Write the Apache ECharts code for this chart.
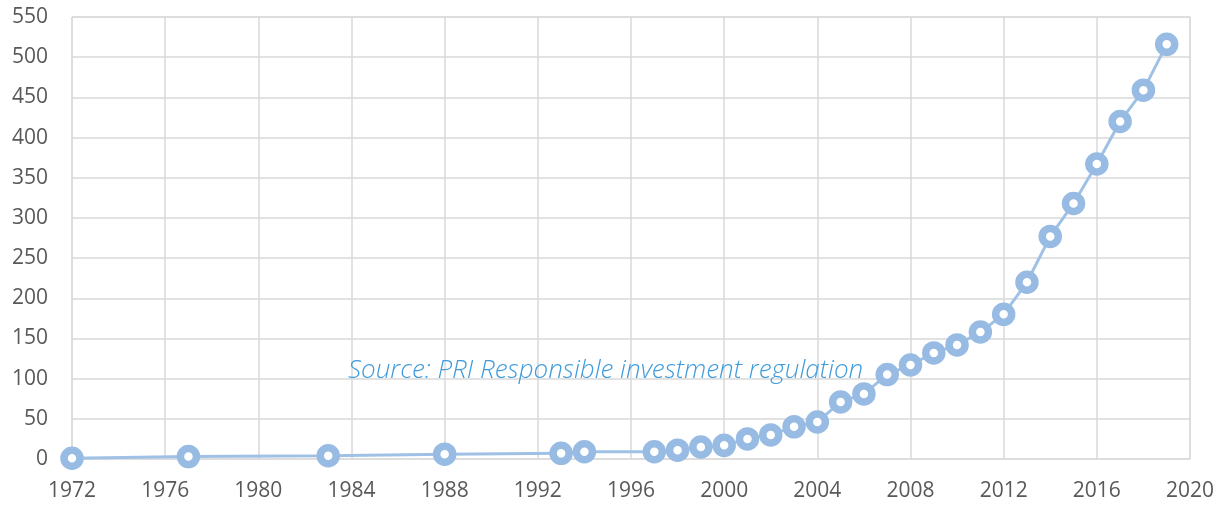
<!DOCTYPE html>
<html lang="en">
<head>
    <meta charset="UTF-8">
    <title>PRI regulation</title>
    <style>
        html, body { margin: 0; padding: 0; background: #fff; }
        #main { width: 1224px; height: 506px; }
    </style>
</head>
<body>
    <div id="main"></div>
    <script src="https://cdn.jsdelivr.net/npm/echarts@6/dist/echarts.min.js"></script>
    <script>
        // 年份与数值
        var years = [1972, 1977, 1983, 1988, 1993, 1994, 1997, 1998, 1999, 2000,
                     2001, 2002, 2003, 2004, 2005, 2006, 2007, 2008, 2009, 2010,
                     2011, 2012, 2013, 2014, 2015, 2016, 2017, 2018, 2019];
        var counts = [1, 3, 4, 6, 7, 9, 9, 11, 15, 17,
                      25, 30, 40, 46, 71, 81, 105, 117, 132, 142,
                      158, 180, 220, 277, 318, 367, 420, 459, 516];
        var sourceText = 'Source: PRI Responsible investment regulation';

        var myChart = echarts.init(document.getElementById('main'));
        var option = {
            animation: false,
            title: {
                text: sourceText,
                left: 343,
                top: 353,
                textStyle: {
                    fontFamily: 'Open Sans',
                    fontStyle: 'italic',
                    fontWeight: 300,
                    fontSize: 26,
                    color: '#3f9bdb'
                }
            },
            grid: { left: 72, right: 34, top: 17, bottom: 47, show: true, borderColor: '#d9d9d9', borderWidth: 1 },
            xAxis: {
                type: 'value',
                min: 1972,
                max: 2020,
                interval: 4,
                axisLine: { show: false },
                axisTick: { show: false },
                axisLabel: {
                    color: '#595959', fontSize: 21, fontFamily: 'Open Sans', margin: 22,
                    formatter: function (v) { return String(v); }
                },
                splitLine: { lineStyle: { color: '#d9d9d9', width: 1.5 } }
            },
            yAxis: {
                type: 'value',
                min: 0,
                max: 550,
                interval: 50,
                axisLine: { show: false },
                axisTick: { show: false },
                axisLabel: { color: '#595959', fontSize: 21, fontFamily: 'Open Sans', margin: 24 },
                splitLine: { lineStyle: { color: '#d9d9d9', width: 1.5 } }
            },
            series: [{
                type: 'line',
                data: years.map(function (y, i) { return [y, counts[i]]; }),
                symbol: 'circle',
                symbolSize: 16,
                lineStyle: { color: '#a0c1e6', width: 3 },
                itemStyle: { color: '#ffffff', borderColor: '#97bbe3', borderWidth: 7.5 }
            }]
        };
        myChart.setOption(option);
    </script>
</body>
</html>
